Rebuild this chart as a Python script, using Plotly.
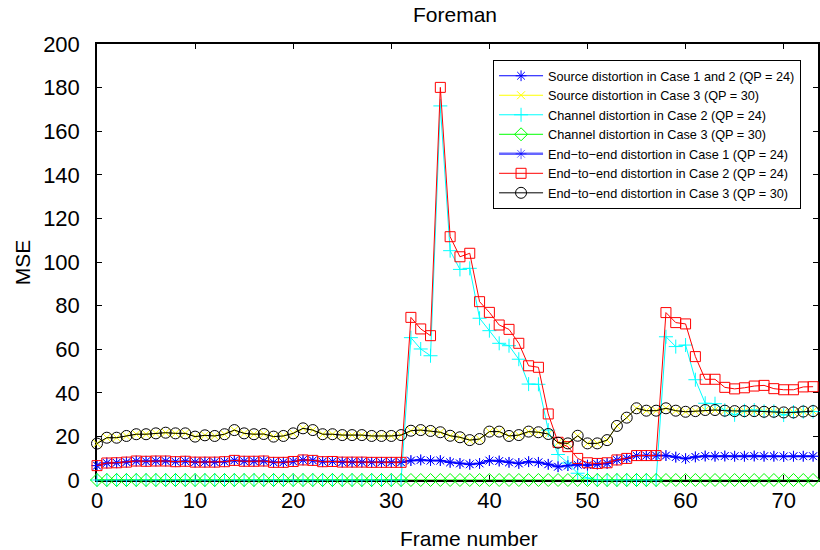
import plotly.graph_objects as go

frames = list(range(74))

source_case12 = [6.6, 7.8, 7.9, 8.2, 8.7, 8.6, 8.7, 8.7, 8.4, 8.6,
                 8.2, 8.2, 8.2, 8.4, 9.0, 8.6, 8.6, 8.7, 8.1, 8.1,
                 8.5, 9.2, 9.0, 8.4, 8.5, 8.2, 8.2, 8.2, 8.1, 8.1,
                 8.1, 8.1, 8.9, 9.2, 8.9, 8.9, 8.1, 7.6, 7.2, 7.6,
                 8.9, 8.7, 8.1, 7.6, 8.4, 8.1, 7.2, 6.1, 6.6, 7.0,
                 6.8, 7.3, 7.6, 9.2, 9.9, 11.2, 11.2, 11.2, 11.2, 10.5,
                 9.8, 10.6, 11.0, 10.9, 11.0, 10.9, 10.9, 11.0, 10.9, 10.9,
                 10.8, 10.9, 10.9, 10.9]

source_case3 = [16.7, 19.4, 19.4, 20.2, 21.0, 21.0, 21.4, 21.7, 21.4, 21.4,
                19.9, 20.5, 20.2, 21.0, 22.9, 21.4, 21.0, 21.1, 19.9, 20.2,
                21.4, 23.7, 22.9, 21.0, 21.0, 20.6, 20.6, 20.6, 20.2, 20.2,
                20.2, 20.6, 22.6, 22.9, 22.5, 21.9, 20.3, 19.6, 18.3, 18.8,
                22.2, 22.2, 20.2, 20.6, 22.2, 21.9, 21.1, 17.1, 16.8, 20.3,
                16.8, 16.8, 18.3, 24.8, 28.6, 32.9, 31.8, 31.8, 32.9, 31.8,
                31.3, 31.6, 32.1, 32.1, 31.8, 31.6, 31.6, 31.6, 31.3, 31.3,
                31.0, 31.0, 31.4, 31.6]

channel_case2 = [0.0] * 32 + [65.3, 60.1, 57.0, 171.6, 105.2, 96.6, 97.1, 74.2,
                              68.5, 62.7, 61.6, 55.4, 44.0, 43.9, 22.9, 11.7, 7.8, 3.1,
                              0.9, 0.0, 0.0, 0.0, 0.0, 0.0, 0.0, 0.0, 65.7, 61.2,
                              61.9, 46.0, 35.2, 35.0, 32.0, 29.9, 31.8, 32.1, 31.5, 31.5,
                              29.8, 31.2, 31.3, 31.4]

channel_case3 = [0.0] * 74

e2e_case1 = list(source_case12)

e2e_case2 = [6.6, 7.8, 7.9, 8.2, 8.7, 8.6, 8.7, 8.7, 8.4, 8.6,
             8.2, 8.2, 8.2, 8.4, 9.0, 8.6, 8.6, 8.7, 8.1, 8.1,
             8.5, 9.2, 9.0, 8.4, 8.5, 8.2, 8.2, 8.2, 8.1, 8.1,
             8.1, 8.1, 74.6, 69.3, 66.2, 180.1, 111.6, 102.4, 104.0, 81.8,
             76.9, 71.1, 69.1, 62.7, 52.4, 51.7, 30.3, 17.3, 15.3, 9.9,
             7.9, 7.6, 7.9, 9.2, 9.9, 11.2, 11.2, 11.2, 76.8, 72.2,
             71.6, 56.6, 46.2, 46.2, 42.5, 41.8, 42.3, 43.1, 43.4, 41.9,
             41.4, 41.4, 42.7, 42.8]

e2e_case3 = list(source_case3)

series = [
    ("Source distortion in Case 1 and 2 (QP = 24)", source_case12, "rgb(0,0,255)", 1, "asterisk-open", 9),
    ("Source distortion in Case 3 (QP = 30)", source_case3, "rgb(255,255,0)", 1, "x-thin-open", 8),
    ("Channel distortion in Case 2 (QP = 24)", channel_case2, "rgb(0,255,255)", 1, "cross-thin-open", 10),
    ("Channel distortion in Case 3 (QP = 30)", channel_case3, "rgb(0,255,0)", 1, "diamond-open", 10),
    ("End\u2212to\u2212end distortion in Case 1 (QP = 24)", e2e_case1, "rgba(0,0,255,0.6)", 2.5, "asterisk-open", 9),
    ("End\u2212to\u2212end distortion in Case 2 (QP = 24)", e2e_case2, "rgb(255,0,0)", 1, "square-open", 10),
    ("End\u2212to\u2212end distortion in Case 3 (QP = 30)", e2e_case3, "rgb(0,0,0)", 1, "circle-open", 11),
]

fig = go.Figure()
for name, vals, color, lw, sym, ms in series:
    fig.add_trace(go.Scatter(
        x=frames, y=vals, name=name, mode="lines+markers", cliponaxis=False,
        line=dict(color=color, width=lw),
        marker=dict(symbol=sym, size=ms, color=color, line=dict(color=color, width=1)),
    ))

font = "Liberation Sans, Arial, sans-serif"
fig.update_layout(
    width=820, height=550,
    margin=dict(l=97, r=0, t=44, b=70),
    paper_bgcolor="white", plot_bgcolor="white",
    font=dict(family=font, color="black"),
    title=dict(text="Foreman", x=455 / 820, xref="container", xanchor="center",
               y=1 - 15 / 550, yref="container", yanchor="middle",
               font=dict(size=21, family=font, color="black")),
    legend=dict(x=(803 - 97) / 723, xanchor="right", y=(480 - 60) / 436, yanchor="top",
                bgcolor="white", bordercolor="black", borderwidth=1,
                font=dict(size=12.7, family=font, color="black"),
                tracegroupgap=0, itemwidth=44),
    showlegend=True,
)
fig.update_xaxes(range=[0, 73.5], tickvals=[0, 10, 20, 30, 40, 50, 60, 70],
                 showline=True, linecolor="black", linewidth=1.5, mirror="ticks",
                 ticks="inside", ticklen=5, tickcolor="black", showgrid=False, zeroline=False,
                 layer="below traces",
                 tickfont=dict(size=22, family=font, color="black"))
fig.update_yaxes(range=[0, 200], tickvals=list(range(0, 201, 20)),
                 showline=True, linecolor="black", linewidth=1.5, mirror="ticks",
                 ticks="inside", ticklen=5, tickcolor="black", showgrid=False, zeroline=False,
                 layer="below traces",
                 tickfont=dict(size=22, family=font, color="black"), ticklabelstandoff=11)
fig.add_annotation(text="MSE", x=(22 - 97) / 723, y=(480 - 262) / 436, xref="paper", yref="paper",
                   showarrow=False, textangle=-90, xanchor="center", yanchor="middle",
                   font=dict(size=21, family=font, color="black"))
fig.add_annotation(text="Frame number", x=(470 - 97) / 723, y=(480 - 538) / 436, xref="paper", yref="paper",
                   showarrow=False, xanchor="center", yanchor="middle",
                   font=dict(size=21, family=font, color="black"))

fig.write_html("out.html", config={"displayModeBar": False},
               post_script="document.body.style.margin='0';document.body.style.overflow='hidden';")
